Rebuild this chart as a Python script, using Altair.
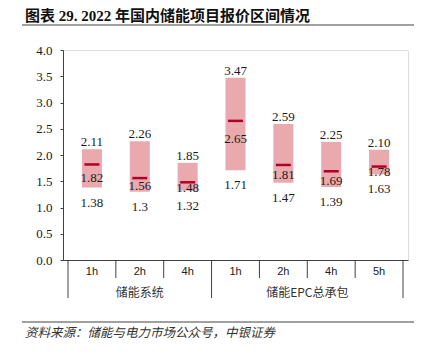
import altair as alt
import pandas as pd

# ---- data ----
groups = ["储能系统", "储能系统", "储能系统",
          "储能EPC总承包", "储能EPC总承包", "储能EPC总承包", "储能EPC总承包"]
durations = ["1h", "2h", "4h", "1h", "2h", "4h", "5h"]
max_labels = ["2.11", "2.26", "1.85", "3.47", "2.59", "2.25", "2.10"]
median_labels = ["1.82", "1.56", "1.48", "2.65", "1.81", "1.69", "1.78"]
min_labels = ["1.38", "1.3", "1.32", "1.71", "1.47", "1.39", "1.63"]
group_names = ["储能系统", "储能EPC总承包"]
y_ticks = [0.0, 0.5, 1.0, 1.5, 2.0, 2.5, 3.0, 3.5, 4.0]
title_text = "图表 29. 2022 年国内储能项目报价区间情况"
source_text = "资料来源：储能与电力市场公众号，中银证券"

# ---- tables ----
df = pd.DataFrame({
    "group": groups,
    "dur": durations,
    "max_label": max_labels,
    "med_label": median_labels,
    "min_label": min_labels,
})
df["pos"] = range(len(df))
df["center"] = df["pos"] + 0.5
df["max"] = df["max_label"].astype(float)
df["med"] = df["med_label"].astype(float)
df["min"] = df["min_label"].astype(float)
# median label sits between the minimum and the median line
df["med_lab_y"] = [max((a + b) / 2, b - 0.31) for a, b in zip(df["min"], df["med"])]

n = len(df)
bounds = list(range(n + 1))
major = {0, n}
for i in range(1, n):
    if groups[i] != groups[i - 1]:
        major.add(i)
minor_df = pd.DataFrame({"b": [b for b in bounds if b not in major]})
major_df = pd.DataFrame({"b": sorted(major)})
grp_df = pd.DataFrame({
    "group": group_names,
    "center": [df.loc[df["group"] == g, "center"].mean() for g in group_names],
})

W, H = 345, 210
xs = alt.Scale(domain=[0, n], nice=False, zero=False)
ys = alt.Scale(domain=[0, 4], nice=False)

x_axis = alt.Axis(title=None, labels=False, ticks=False, grid=False,
                  domainColor="#404040", domainWidth=1)
y_axis = alt.Axis(title=None, values=y_ticks, format=".1f", grid=False,
                  labelOverlap=False, tickSize=3, labelPadding=8,
                  tickColor="#404040", domainColor="#404040",
                  labelFont="Liberation Serif", labelFontSize=13,
                  labelColor="#1a1a1a")


def X(field):
    return alt.X(field, scale=xs, axis=x_axis)


def Y(field):
    return alt.Y(field, scale=ys, axis=y_axis)


base = alt.Chart(df)

bars = base.mark_bar(size=20, color="#EAAAAD").encode(
    x=X("center:Q"), y=Y("min:Q"), y2="max:Q")

med = base.mark_tick(orient="horizontal", size=15, thickness=2.5, opacity=1,
                     color="#B0002A").encode(x=X("center:Q"), y=Y("med:Q"))

txt_style = dict(font="Liberation Serif", fontSize=13, color="#1a1a1a",
                 align="center", baseline="middle")
max_t = base.mark_text(dy=-7, **txt_style).encode(
    x=X("center:Q"), y=Y("max:Q"), text="max_label:N")
med_t = base.mark_text(dy=1.5, **txt_style).encode(
    x=X("center:Q"), y=Y("med_lab_y:Q"), text="med_label:N")
min_t = base.mark_text(dy=15, **txt_style).encode(
    x=X("center:Q"), y=Y("min:Q"), text="min_label:N")

cat_t = base.mark_text(font="Liberation Sans", fontSize=11, color="#222222",
                       baseline="middle", align="center").encode(
    x=X("center:Q"), y=alt.value(H + 12), text="dur:N")

minor_r = alt.Chart(minor_df).mark_rule(color="#404040", strokeWidth=1).encode(
    x=X("b:Q"), y=alt.value(H), y2=alt.value(H + 18))
major_r = alt.Chart(major_df).mark_rule(color="#404040", strokeWidth=1).encode(
    x=X("b:Q"), y=alt.value(H), y2=alt.value(H + 38))

grp_t = alt.Chart(grp_df).mark_text(font="Noto Sans CJK SC", fontSize=12,
                                     color="#333333", baseline="middle",
                                     align="center").encode(
    x=X("center:Q"), y=alt.value(H + 33), text="group:N")

title_df = pd.DataFrame({"t": [title_text]})
title_m = alt.Chart(title_df).mark_text(
    font="Liberation Serif, Noto Sans CJK SC", fontSize=15, fontWeight="bold",
    color="#111111", align="left", baseline="middle").encode(
    x=alt.value(-38), y=alt.value(-34), text="t:N")
title_rule = alt.Chart(title_df).mark_rule(color="#808080", strokeWidth=1.5).encode(
    x=alt.value(-41), x2=alt.value(W + 6), y=alt.value(-25))

src_df = pd.DataFrame({"t": [source_text]})
src_rule = alt.Chart(src_df).mark_rule(color="#808080", strokeWidth=1.5).encode(
    x=alt.value(-41), x2=alt.value(W + 6), y=alt.value(H + 62))
src_m = alt.Chart(src_df).mark_text(
    font="Noto Sans CJK SC", fontSize=12.5, fontStyle="italic", color="#333333",
    align="left", baseline="middle").encode(
    x=alt.value(-38), y=alt.value(H + 73), text="t:N")

chart = alt.layer(
    bars, med, max_t, med_t, min_t, cat_t, minor_r, major_r, grp_t,
    title_m, title_rule, src_rule, src_m,
).properties(
    width=W, height=H,
    autosize=alt.AutoSizeParams(type="none"),
    padding={"left": 55, "top": 42, "right": 6, "bottom": 92},
).configure_view(stroke=None).configure_axisY(
    labelOverlap=False, values=y_ticks
).configure(background="white")

chart.save("out.html", embed_options={"renderer": "svg", "actions": False})
